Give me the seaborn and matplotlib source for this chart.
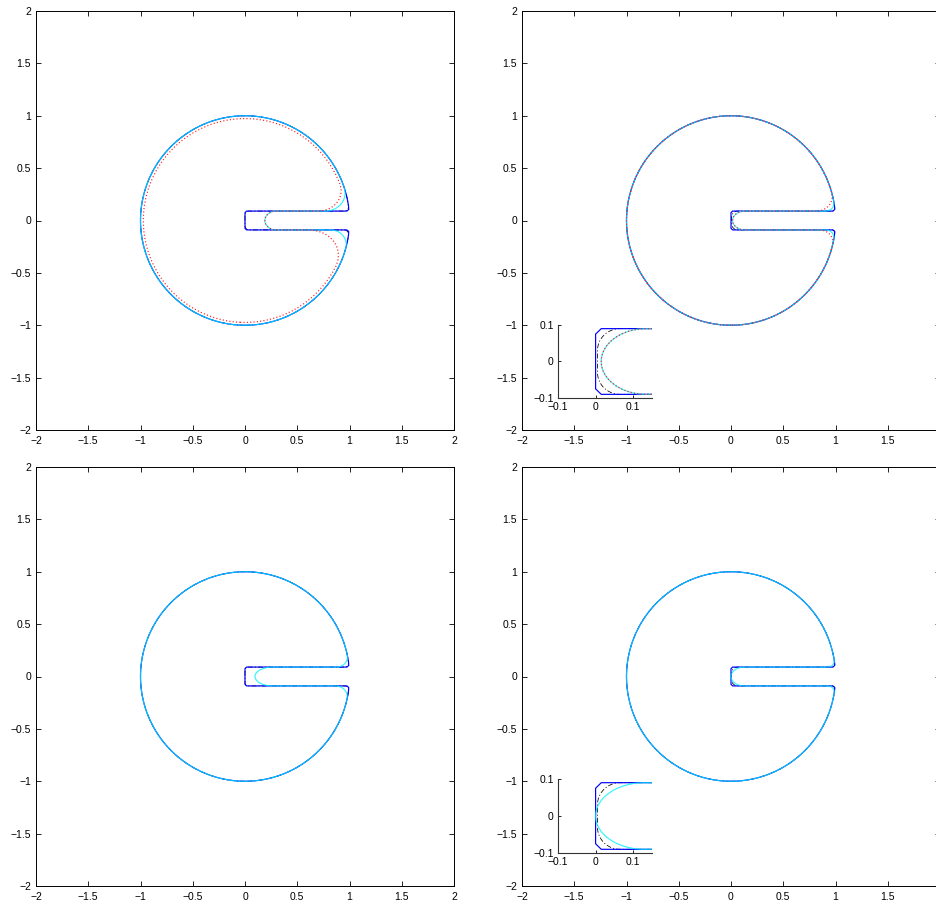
import numpy as np
import matplotlib
matplotlib.use("Agg")
import matplotlib.pyplot as plt
import seaborn as sns

sns.set_theme(style="white")
plt.rcParams["font.family"] = ["Liberation Sans", "DejaVu Sans"]
plt.rcParams["lines.scale_dashes"] = False
plt.rcParams["axes.unicode_minus"] = True

# ---- slotted disk geometry ----
DISK_RADIUS = 1.0
SLOT_HALF_WIDTH = 0.09
SLOT_START = 0.0

# ---- tick values / labels ----
MAIN_TICKS = [-2, -1.5, -1, -0.5, 0, 0.5, 1, 1.5, 2]
MAIN_TICK_LABELS = ["\u22122", "\u22121.5", "\u22121", "\u22120.5", "0", "0.5", "1", "1.5", "2"]
# right-hand column stops labelling at 1.5
RIGHT_X_TICK_LABELS = ["\u22122", "\u22121.5", "\u22121", "\u22120.5", "0", "0.5", "1", "1.5", ""]
INSET_TICKS = [-0.1, 0, 0.1]
INSET_TICK_LABELS = ["\u22120.1", "0", "0.1"]
INSET_XLIM = (-0.1, 0.15)
INSET_YLIM = (-0.1, 0.1)
INSET_PANELS = [1, 3]

# ---- per-panel contour parameters (one entry per panel) ----
# black dash-dot contour
BLACK_TIP_X = [0.0, 0.005, 0.0, 0.005]
BLACK_TIP_RX = [0.04, 0.06, 0.03, 0.06]
BLACK_TIP_RY = [0.04, 0.06, 0.03, 0.06]
BLACK_FILLET_TOP = [0.05, 0.03, 0.04, 0.03]
BLACK_FILLET_BOTTOM = [0.05, 0.03, 0.04, 0.03]
BLACK_RADIUS = [1.0, 1.0, 1.0, 1.0]

# cyan solid contour
CYAN_TIP_X = [0.19, 0.015, 0.096, 0.0]
CYAN_TIP_RX = [0.11, 0.12, 0.17, 0.13]
CYAN_TIP_RY = [0.09, 0.09, 0.09, 0.09]
CYAN_FILLET_TOP = [0.23, 0.09, 0.12, 0.07]
CYAN_FILLET_BOTTOM = [0.18, 0.09, 0.13, 0.07]
CYAN_RADIUS = [1.0, 1.0, 1.0, 1.0]

# red dotted contour (first row only)
RED_PANELS = [0, 1]
RED_TIP_X = [0.19, 0.015]
RED_TIP_RX = [0.11, 0.12]
RED_TIP_RY = [0.09, 0.09]
RED_FILLET_TOP = [0.27, 0.18]
RED_FILLET_BOTTOM = [0.36, 0.15]
RED_RADIUS = [0.973, 1.0]

# exact interface, sampled on a coarse mesh
EXACT_SPACING = 0.03
FINE_SPACING = 0.004


def round_intersection(a, b, r):
    u = np.hypot(np.maximum(r + a, 0.0), np.maximum(r + b, 0.0))
    return np.minimum(-r, np.maximum(a, b)) + u


def level_set(X, Y, tip_x, tip_rx, tip_ry, fil_top, fil_bot, radius):
    d_disk = np.hypot(X, Y) - radius
    if tip_rx > 0:
        s = tip_ry / tip_rx
        r = tip_ry
    else:
        s, r = 1.0, 0.0
    x_far = 3.0
    xs = tip_x + (X - tip_x) * s
    xs_far = tip_x + (x_far - tip_x) * s
    cx = 0.5 * (tip_x + xs_far)
    bx = 0.5 * (xs_far - tip_x)
    qx = np.abs(xs - cx) - bx + r
    qy = np.abs(Y) - SLOT_HALF_WIDTH + r
    d_slot = (np.hypot(np.maximum(qx, 0), np.maximum(qy, 0))
              + np.minimum(np.maximum(qx, qy), 0) - r)
    fil = np.where(Y >= 0, fil_top, fil_bot)
    return round_intersection(d_disk, -d_slot, fil)


xc = np.arange(-1.215, 1.22, EXACT_SPACING)
XC, YC = np.meshgrid(xc, xc)
xf = np.arange(-1.2, 1.2 + 1e-9, FINE_SPACING)
XF, YF = np.meshgrid(xf, xf)

EXACT_FIELD = level_set(XC, YC, SLOT_START, 0.0, 0.0, 0.0, 0.0, DISK_RADIUS)


def draw_contours(ax, p):
    # black dash-dot
    Zk = level_set(XF, YF, BLACK_TIP_X[p], BLACK_TIP_RX[p], BLACK_TIP_RY[p],
                   BLACK_FILLET_TOP[p], BLACK_FILLET_BOTTOM[p], BLACK_RADIUS[p])
    ax.contour(XF, YF, Zk, levels=[0], colors="black", linewidths=0.55,
               linestyles=[(0, (3.5, 1.5, 0.8, 1.5))])
    # exact (blue)
    ax.contour(XC, YC, EXACT_FIELD, levels=[0], colors="#0000ff", linewidths=0.85)
    # cyan
    Zc = level_set(XF, YF, CYAN_TIP_X[p], CYAN_TIP_RX[p], CYAN_TIP_RY[p],
                   CYAN_FILLET_TOP[p], CYAN_FILLET_BOTTOM[p], CYAN_RADIUS[p])
    ax.contour(XF, YF, Zc, levels=[0], colors="#00f0ff", linewidths=0.85, alpha=0.8)
    # red dotted
    if p in RED_PANELS:
        i = RED_PANELS.index(p)
        Zr = level_set(XF, YF, RED_TIP_X[i], RED_TIP_RX[i], RED_TIP_RY[i],
                       RED_FILLET_TOP[i], RED_FILLET_BOTTOM[i], RED_RADIUS[i])
        ax.contour(XF, YF, Zr, levels=[0], colors="#ff2020", linewidths=0.9,
                   linestyles=[(0, (0.8, 1.6))])


W, H = 936, 902
fig = plt.figure(figsize=(W / 100, H / 100), dpi=100)
fig.patch.set_facecolor("white")

MAIN_BOXES = [(36, 11, 418, 419), (522, 11, 418, 419),
              (36, 467, 418, 419), (522, 467, 418, 419)]
INSET_BOXES = {1: (558, 325, 94, 73), 3: (558, 779, 94, 74)}


def px_rect(left, top, w, h):
    return [left / W, 1 - (top + h) / H, w / W, h / H]


for p, box in enumerate(MAIN_BOXES):
    ax = fig.add_axes(px_rect(*box))
    ax.set_facecolor("white")
    draw_contours(ax, p)
    ax.set_xlim(-2, 2)
    ax.set_ylim(-2, 2)
    ax.set_xticks(MAIN_TICKS)
    ax.set_xticklabels(RIGHT_X_TICK_LABELS if p % 2 == 1 else MAIN_TICK_LABELS)
    ax.set_yticks(MAIN_TICKS)
    ax.set_yticklabels(MAIN_TICK_LABELS)
    ax.tick_params(direction="in", length=3.5, width=0.6, color="black",
                   top=True, right=True, bottom=True, left=True,
                   labelsize=7.5, labelcolor="black")
    ax.tick_params(axis="x", pad=4.5)
    ax.tick_params(axis="y", pad=3.5)
    for sp in ax.spines.values():
        sp.set_visible(True)
        sp.set_color("black")
        sp.set_linewidth(0.7)

for p in INSET_PANELS:
    ax = fig.add_axes(px_rect(*INSET_BOXES[p]))
    ax.set_facecolor("white")
    draw_contours(ax, p)
    ax.set_xlim(*INSET_XLIM)
    ax.set_ylim(*INSET_YLIM)
    ax.set_xticks(INSET_TICKS)
    ax.set_xticklabels(INSET_TICK_LABELS)
    ax.set_yticks(INSET_TICKS)
    ax.set_yticklabels(INSET_TICK_LABELS)
    sns.despine(ax=ax)
    ax.tick_params(direction="in", length=2.5, width=0.6, color="black",
                   bottom=True, left=True, labelsize=7.5, labelcolor="black", pad=3)
    for side in ("left", "bottom"):
        ax.spines[side].set_color("#333333")
        ax.spines[side].set_linewidth(0.8)

fig.savefig("out.png", dpi=100, facecolor="white")
